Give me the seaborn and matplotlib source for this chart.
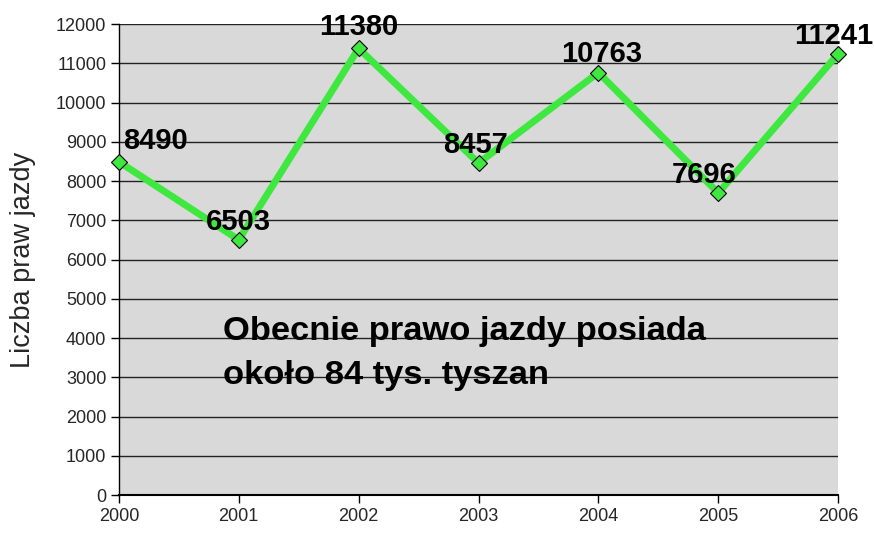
import matplotlib
matplotlib.use("Agg")
import matplotlib.pyplot as plt
import seaborn as sns
import pandas as pd

years = [2000, 2001, 2002, 2003, 2004, 2005, 2006]
counts = [8490, 6503, 11380, 8457, 10763, 7696, 11241]
yticks = list(range(0, 12001, 1000))
ylabel = "Liczba praw jazdy"
note = "Obecnie prawo jazdy posiada\nokoło 84 tys. tyszan"

sns.set_theme(style="white")
plt.rcParams['font.family'] = ['Liberation Sans', 'DejaVu Sans']

df = pd.DataFrame({"year": years, "count": counts})

fig = plt.figure(figsize=(8.74, 5.34), dpi=100)
ax = fig.add_axes([0.136, 0.073, 0.823, 0.882])
ax.set_facecolor("#D9D9D9")

for v in yticks:
    ax.axhline(v, color="#222222", lw=1.0, zorder=1)

sns.lineplot(data=df, x="year", y="count", ax=ax, color="#3FE83F", lw=5,
             marker="D", markersize=8, markerfacecolor="#3FE83F",
             markeredgecolor="black", markeredgewidth=0.8, zorder=3, clip_on=False)

offsets = [(3, 5), (0, 3), (0, 5), (-2, 3), (2, 3), (-10, 3), (-3, 3)]
has = ["left", "center", "center", "center", "center", "center", "center"]
for x, y, off, ha in zip(years, counts, offsets, has):
    ax.annotate(str(y), (x, y), xytext=off, textcoords="offset points",
                ha=ha, va="bottom", fontsize=21, fontweight="bold",
                color="black", zorder=5, annotation_clip=False)

ax.text(2000.87, 2828, note, fontsize=24.8, fontweight="bold", ha="left",
        va="baseline", linespacing=1.55, color="black", zorder=4)

ax.set_xlim(2000, 2006)
ax.set_ylim(0, 12000)
ax.set_xticks(years)
ax.set_xticklabels([str(y) for y in years])
ax.set_yticks(yticks)
ax.set_yticklabels([str(v) for v in yticks])
ax.tick_params(axis="both", labelsize=13, direction="out", length=6,
               width=1, color="black", pad=3, left=True, bottom=True)
ax.set_xlabel("")
ax.set_ylabel(ylabel, fontsize=19.5, labelpad=14)

for s in ["top", "right"]:
    ax.spines[s].set_visible(False)
ax.spines["left"].set_color("black")
ax.spines["bottom"].set_color("black")
ax.spines["left"].set_linewidth(1)
ax.spines["bottom"].set_linewidth(1.5)

fig.savefig("out.png", dpi=100)
